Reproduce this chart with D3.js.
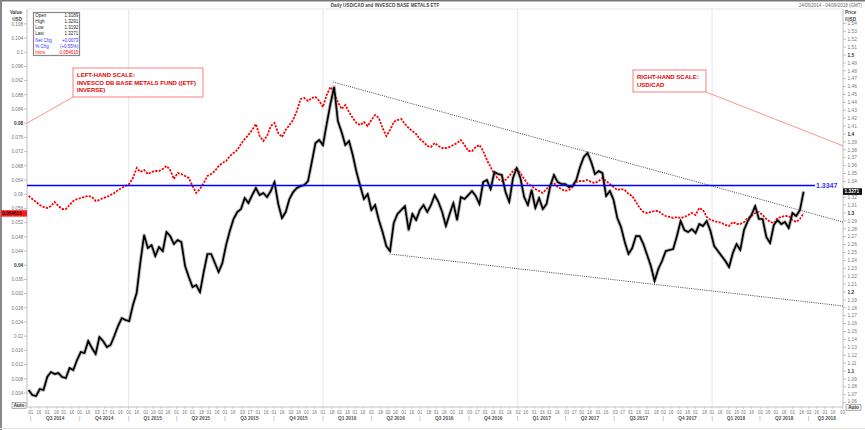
<!DOCTYPE html>
<html>
<head>
<meta charset="utf-8">
<script src="https://cdn.jsdelivr.net/npm/d3@7"></script>
<style>
  body { margin: 0; background: #fff; }
  svg { display: block; }
  text { font-family: "Liberation Sans", Arial, sans-serif; }
</style>
</head>
<body>
<svg id="chart" width="865" height="430"></svg>
<script>
// weekly closes, first week ending 2014-06-27
const weekStart = "2014-06-27";

// USD/CAD weekly close (right-hand scale)
const usdcad = [
  1.0759, 1.0696, 1.0683, 1.0772, 1.0759, 1.0924, 1.0987, 1.0962, 1.0974, 1.0924,
  1.0911, 1.1038, 1.1012, 1.1139, 1.1240, 1.1227, 1.1379, 1.1291, 1.1215, 1.1430,
  1.1379, 1.1303, 1.1329, 1.1443, 1.1569, 1.1670, 1.1645, 1.1632, 1.1835, 1.1987,
  1.2379, 1.2721, 1.2556, 1.2594, 1.2455, 1.2569, 1.2518, 1.2759, 1.2708, 1.2607,
  1.2658, 1.2632, 1.2329, 1.2189, 1.2063, 1.2088, 1.1999, 1.2253, 1.2481, 1.2481,
  1.2367, 1.2253, 1.2367, 1.2594, 1.2772, 1.2924, 1.3012, 1.3050, 1.3189, 1.3126,
  1.3227, 1.3316, 1.3227, 1.3253, 1.3202, 1.3278, 1.3392, 1.3113, 1.2936, 1.3012,
  1.3177, 1.3265, 1.3316, 1.3341, 1.3354, 1.3405, 1.3645, 1.3886, 1.3924, 1.3860,
  1.4126, 1.4379, 1.4595, 1.4164, 1.4025, 1.3860, 1.3911, 1.3734, 1.3518, 1.3341,
  1.3177, 1.3240, 1.3037, 1.3101, 1.2911, 1.2759, 1.2582, 1.2518, 1.2873, 1.2987,
  1.3037, 1.3088, 1.2784, 1.2987, 1.2911, 1.3037, 1.3101, 1.3012, 1.3101, 1.3227,
  1.3139, 1.3012, 1.2835, 1.2987, 1.3126, 1.2911, 1.3202, 1.3177, 1.3227, 1.3278,
  1.3215, 1.3113, 1.3392, 1.3418, 1.3303, 1.3518, 1.3493, 1.3481, 1.3265, 1.3139,
  1.3443, 1.3569, 1.3443, 1.3202, 1.3101, 1.3291, 1.3063, 1.3189, 1.3050, 1.3113,
  1.3341, 1.3481, 1.3392, 1.3367, 1.3367, 1.3329, 1.3341, 1.3418, 1.3582, 1.3708,
  1.3759, 1.3645, 1.3493, 1.3531, 1.3506, 1.3215, 1.3278, 1.3164, 1.2936, 1.2822,
  1.2632, 1.2481, 1.2556, 1.2708, 1.2708, 1.2607, 1.2468, 1.2329, 1.2139, 1.2291,
  1.2392, 1.2518, 1.2531, 1.2544, 1.2708, 1.2898, 1.2784, 1.2759, 1.2797, 1.2746,
  1.2860, 1.2835, 1.2898, 1.2772, 1.2582, 1.2518, 1.2455, 1.2392, 1.2316, 1.2493,
  1.2607, 1.2531, 1.2784, 1.2898, 1.2974, 1.3088, 1.2924, 1.2924, 1.2696, 1.2620,
  1.2848, 1.2911, 1.2860, 1.2886, 1.2810, 1.2999, 1.2962, 1.3037, 1.3271
];

// Invesco DB Base Metals fund, inverse (left-hand scale)
const inverse = [
  0.05950, 0.05865, 0.05781, 0.05696, 0.05640, 0.05612, 0.05668, 0.05781, 0.05668, 0.05583,
  0.05583, 0.05696, 0.05809, 0.05865, 0.05893, 0.05922, 0.05950, 0.05922, 0.05809, 0.05837,
  0.05893, 0.05922, 0.05978, 0.06034, 0.06119, 0.06175, 0.06231, 0.06288, 0.06457, 0.06738,
  0.06626, 0.06682, 0.06569, 0.06626, 0.06654, 0.06654, 0.06710, 0.06795, 0.06682, 0.06429,
  0.06598, 0.06569, 0.06513, 0.06457, 0.06231, 0.06034, 0.06147, 0.06316, 0.06513, 0.06569,
  0.06654, 0.06795, 0.06879, 0.06936, 0.07076, 0.07161, 0.07245, 0.07414, 0.07555, 0.07668,
  0.07808, 0.07977, 0.07639, 0.07499, 0.07639, 0.07921, 0.08005, 0.07724, 0.07611, 0.07808,
  0.07949, 0.08090, 0.08344, 0.08682, 0.08710, 0.08626, 0.08710, 0.08738, 0.08626, 0.08457,
  0.08795, 0.09020, 0.08879, 0.08597, 0.08400, 0.08513, 0.08316, 0.08147, 0.08005, 0.07949,
  0.08034, 0.07921, 0.08090, 0.08231, 0.08147, 0.07864, 0.07639, 0.07808, 0.08034, 0.08090,
  0.08118, 0.07977, 0.07864, 0.07780, 0.07696, 0.07555, 0.07470, 0.07358, 0.07330, 0.07442,
  0.07358, 0.07301, 0.07301, 0.07330, 0.07386, 0.07442, 0.07527, 0.07386, 0.07217, 0.07217,
  0.07330, 0.07386, 0.07217, 0.06964, 0.06766, 0.06569, 0.06429, 0.06372, 0.06400, 0.06513,
  0.06654, 0.06738, 0.06598, 0.06429, 0.06288, 0.06231, 0.06147, 0.06091, 0.06034, 0.06147,
  0.06288, 0.06316, 0.06203, 0.06147, 0.06091, 0.06119, 0.06203, 0.06344, 0.06372, 0.06372,
  0.06400, 0.06344, 0.06316, 0.06372, 0.06457, 0.06372, 0.06288, 0.06203, 0.06119, 0.06147,
  0.06119, 0.06006, 0.05950, 0.05781, 0.05612, 0.05499, 0.05471, 0.05499, 0.05527, 0.05527,
  0.05443, 0.05386, 0.05358, 0.05330, 0.05358, 0.05330, 0.05358, 0.05414, 0.05471, 0.05414,
  0.05612, 0.05555, 0.05358, 0.05274, 0.05245, 0.05217, 0.05189, 0.05133, 0.05104, 0.05217,
  0.05161, 0.05161, 0.05217, 0.05330, 0.05386, 0.05471, 0.05499, 0.05414, 0.05302, 0.05217,
  0.05189, 0.05330, 0.05358, 0.05386, 0.05386, 0.05274, 0.05217, 0.05302, 0.054615
];

const leftTicks = [0.004, 0.008, 0.012, 0.016, 0.02, 0.024, 0.028, 0.032, 0.036, 0.04,
  0.044, 0.048, 0.052, 0.056, 0.06, 0.064, 0.068, 0.072, 0.076, 0.08, 0.084, 0.088,
  0.092, 0.096, 0.1, 0.104, 0.108];
const rightTicks = [1.06, 1.07, 1.08, 1.09, 1.1, 1.11, 1.12, 1.13, 1.14, 1.15, 1.16, 1.17,
  1.18, 1.19, 1.2, 1.21, 1.22, 1.23, 1.24, 1.25, 1.26, 1.27, 1.28, 1.29, 1.3, 1.31, 1.32,
  1.33, 1.34, 1.35, 1.36, 1.37, 1.38, 1.39, 1.4, 1.41, 1.42, 1.43, 1.44, 1.45, 1.46, 1.47,
  1.48, 1.49, 1.5, 1.51, 1.52, 1.53, 1.54];
const boldLeft = [0.04, 0.08];
const boldRight = [1.1, 1.2, 1.3, 1.4, 1.5];

const quarters = ["Q3 2014", "Q4 2014", "Q1 2015", "Q2 2015", "Q3 2015", "Q4 2015",
  "Q1 2016", "Q2 2016", "Q3 2016", "Q4 2016", "Q1 2017", "Q2 2017", "Q3 2017",
  "Q4 2017", "Q1 2018", "Q2 2018", "Q3 2018"];
const yearStarts = ["2015-01-01", "2016-01-01", "2017-01-01", "2018-01-01"];

const legendLabels = ["Open", "High", "Low", "Last", "Net Chg", "% Chg", "Invrs"];
const legendValues = ["1.3189", "1.3291", "1.3192", "1.3271", "+0.0073", "(+0.55%)", "0.054615"];
const legendColors = ["#222", "#222", "#222", "#222", "#3333ff", "#3333ff", "#ff0000"];

const resistance = 1.3347;
const lastPrice = 1.3271;
const lastInverse = 0.054615;
const upperTrend = [["2016-01-20", 1.4658], ["2018-09-04", 1.2886]];
const lowerTrend = [["2016-05-05", 1.2481], ["2018-09-04", 1.1823]];

const parse = d3.utcParse("%Y-%m-%d");
const L = 27, R = 843, T = 9, B = 407;

const svg = d3.select("#chart");

const x = d3.scaleUtc()
  .domain([parse("2014-06-24"), parse("2018-09-04")])
  .range([L, R]);
const yR = d3.scaleLinear().domain([1.05443, 1.55823]).range([B, T]);
const yL = d3.scaleLinear().domain([0, 0.11217]).range([407.2, T]);

const dates = usdcad.map((d, i) => d3.utcDay.offset(parse(weekStart), 7 * i));

// frame
svg.append("rect").attr("x", 0).attr("y", 0).attr("width", 865).attr("height", 430).attr("fill", "#fff");
svg.append("rect").attr("x", L).attr("y", T).attr("width", R - L).attr("height", B - T)
  .attr("fill", "#fff").attr("stroke", "#e2e2e2").attr("stroke-width", 0.8);
svg.append("rect").attr("x", 0).attr("y", 0).attr("width", 865).attr("height", 1.5).attr("fill", "#777");
svg.append("rect").attr("x", 0).attr("y", 0).attr("width", 2).attr("height", 430).attr("fill", "#888");
svg.append("line").attr("x1", 0).attr("x2", 865).attr("y1", 428.5).attr("y2", 428.5)
  .attr("stroke", "#e4e4e4");

svg.append("defs").append("clipPath").attr("id", "clip")
  .append("rect").attr("x", L).attr("y", T).attr("width", R - L).attr("height", B - T);

// year gridlines
svg.append("g").selectAll("line").data(yearStarts).join("line")
  .attr("x1", d => x(parse(d))).attr("x2", d => x(parse(d)))
  .attr("y1", T).attr("y2", B)
  .attr("stroke", "#e6e6e6").attr("stroke-width", 1);

// title
svg.append("text").attr("x", 385).attr("y", 6.6).attr("text-anchor", "middle")
  .attr("font-size", 4.6).attr("font-weight", "bold").attr("fill", "#444")
  .text("Daily USD/CAD and INVESCO BASE METALS ETF");
svg.append("text").attr("x", 862).attr("y", 6.6).attr("text-anchor", "end")
  .attr("font-size", 4.5).attr("fill", "#666")
  .text("24/06/2014 - 04/09/2018 (GMT)");

// left axis
const gl = svg.append("g");
gl.append("line").attr("x1", L).attr("x2", L).attr("y1", T).attr("y2", B).attr("stroke", "#ccc");
gl.selectAll("line.t").data(leftTicks).join("line").attr("class", "t")
  .attr("x1", L - 3).attr("x2", L).attr("y1", d => yL(d)).attr("y2", d => yL(d))
  .attr("stroke", "#999").attr("stroke-width", 0.6);
gl.selectAll("text").data(leftTicks).join("text")
  .attr("x", L - 3.8).attr("y", d => yL(d) + 1.7).attr("text-anchor", "end")
  .attr("font-size", 4.7)
  .attr("font-weight", d => boldLeft.includes(d) ? "bold" : "normal")
  .attr("fill", d => boldLeft.includes(d) ? "#333" : "#777")
  .text(d => String(+d.toFixed(3)));
svg.append("text").attr("x", 22).attr("y", 14.4).attr("text-anchor", "end")
  .attr("font-size", 4.6).attr("font-weight", "bold").attr("fill", "#444").text("Value");
svg.append("text").attr("x", 22).attr("y", 21).attr("text-anchor", "end")
  .attr("font-size", 4.6).attr("font-weight", "bold").attr("fill", "#444").text("USD");

// right axis (labels hidden behind the last-price tag are skipped)
const gr = svg.append("g");
gr.append("line").attr("x1", R).attr("x2", R).attr("y1", T).attr("y2", B).attr("stroke", "#ccc");
gr.selectAll("line.t").data(rightTicks).join("line").attr("class", "t")
  .attr("x1", R).attr("x2", R + 3).attr("y1", d => yR(d)).attr("y2", d => yR(d))
  .attr("stroke", "#999").attr("stroke-width", 0.6);
gr.selectAll("text").data(rightTicks.filter(d => Math.abs(yR(d) - yR(lastPrice)) > 5.5)).join("text")
  .attr("x", R + 4.5).attr("y", d => yR(d) + (d < 1.065 ? 0.6 : 1.7))
  .attr("font-size", 4.8)
  .attr("font-weight", d => boldRight.includes(d) ? "bold" : "normal")
  .attr("fill", d => boldRight.includes(d) ? "#333" : "#777")
  .text(d => String(+d.toFixed(2)));
svg.append("text").attr("x", 845).attr("y", 14.4)
  .attr("font-size", 4.6).attr("font-weight", "bold").attr("fill", "#444").text("Price");
svg.append("text").attr("x", 845).attr("y", 21)
  .attr("font-size", 4.6).attr("font-weight", "bold").attr("fill", "#444").text("/USD");

// bottom axis: first trading day on/after the 1st and the 16th of every month
const dayTicks = [];
d3.utcMonths(parse("2014-07-01"), x.domain()[1]).forEach(m => {
  [1, 16].forEach(day => {
    let d = new Date(Date.UTC(m.getUTCFullYear(), m.getUTCMonth(), day));
    while (d.getUTCDay() === 0 || d.getUTCDay() === 6) d = d3.utcDay.offset(d, 1);
    if (d <= x.domain()[1]) dayTicks.push(d);
  });
});
const gb = svg.append("g");
gb.append("line").attr("x1", L).attr("x2", R).attr("y1", B).attr("y2", B).attr("stroke", "#ccc");
gb.selectAll("line.t").data(dayTicks).join("line").attr("class", "t")
  .attr("x1", d => x(d)).attr("x2", d => x(d)).attr("y1", B).attr("y2", B + 2)
  .attr("stroke", "#aaa").attr("stroke-width", 0.5);
gb.selectAll("text.d").data(dayTicks).join("text").attr("class", "d")
  .attr("x", d => x(d)).attr("y", 413.6).attr("text-anchor", "middle")
  .attr("font-size", 4.5).attr("fill", "#777")
  .text(d3.utcFormat("%d"));

const qStarts = d3.utcMonth.every(3).range(parse("2014-07-01"), parse("2018-10-02"));
gb.selectAll("text.sep").data(qStarts.slice(0, quarters.length)).join("text").attr("class", "sep")
  .attr("x", d => x(d)).attr("y", 420).attr("text-anchor", "middle")
  .attr("font-size", 5).attr("fill", "#777").text("|");
gb.selectAll("text.q").data(quarters).join("text").attr("class", "q")
  .attr("x", (d, i) => (x(qStarts[i]) + Math.min(x(qStarts[i + 1]), R + 2)) / 2)
  .attr("y", 419.8).attr("text-anchor", "middle")
  .attr("font-size", 4.8).attr("font-weight", "bold").attr("fill", "#555")
  .text(d => d);

// series
const plot = svg.append("g").attr("clip-path", "url(#clip)");

const lineR = d3.line().x((d, i) => x(dates[i])).y(d => yR(d));
const lineL = d3.line().x((d, i) => x(dates[i])).y(d => yL(d));

plot.append("path").datum(inverse).attr("d", lineL)
  .attr("fill", "none").attr("stroke", "#ff0000").attr("stroke-width", 1.8)
  .attr("stroke-dasharray", "2.2,1.3");

plot.append("path").datum(usdcad).attr("d", lineR)
  .attr("fill", "none").attr("stroke", "#777").attr("stroke-width", 3.6)
  .attr("stroke-opacity", 0.5).attr("stroke-linejoin", "round");
plot.append("path").datum(usdcad).attr("d", lineR)
  .attr("fill", "none").attr("stroke", "#000").attr("stroke-width", 1.7)
  .attr("stroke-linejoin", "miter");

// trend lines
[upperTrend, lowerTrend].forEach(t => {
  plot.append("line")
    .attr("x1", x(parse(t[0][0]))).attr("y1", yR(t[0][1]))
    .attr("x2", x(parse(t[1][0]))).attr("y2", yR(t[1][1]))
    .attr("stroke", "#333").attr("stroke-width", 0.9).attr("stroke-dasharray", "1,1.2");
});

// resistance
svg.append("line").attr("x1", L).attr("x2", 815).attr("y1", yR(resistance)).attr("y2", yR(resistance))
  .attr("stroke", "#0000ff").attr("stroke-width", 1.5);
svg.append("text").attr("x", 816).attr("y", yR(resistance) + 2.5)
  .attr("font-size", 7).attr("font-weight", "bold").attr("fill", "#3333ff")
  .text(String(resistance));

// last-value tags
svg.append("rect").attr("x", R).attr("y", yR(lastPrice) - 3.3).attr("width", 19).attr("height", 6.6)
  .attr("fill", "#111");
svg.append("text").attr("x", R + 1.5).attr("y", yR(lastPrice) + 1.8)
  .attr("font-size", 4.8).attr("font-weight", "bold").attr("fill", "#fff").text(String(lastPrice));
svg.append("rect").attr("x", 1).attr("y", yL(lastInverse) - 3.1).attr("width", 26).attr("height", 6.4)
  .attr("fill", "#ff1a1a");
svg.append("text").attr("x", 2).attr("y", yL(lastInverse) + 1.8)
  .attr("font-size", 4.7).attr("font-weight", "bold").attr("fill", "#111").text(String(lastInverse));

// legend box
const lg = svg.append("g");
lg.append("rect").attr("x", 33.5).attr("y", 12.5).attr("width", 46).attr("height", 43)
  .attr("fill", "#fff").attr("stroke", "#888").attr("stroke-width", 1.2);
legendLabels.forEach((lab, i) => {
  const yy = 17.3 + i * 6.05;
  lg.append("text").attr("x", 35.3).attr("y", yy).attr("font-size", 4.5)
    .attr("fill", legendColors[i]).text(lab);
  lg.append("text").attr("x", 78.3).attr("y", yy).attr("font-size", 4.5)
    .attr("text-anchor", "end").attr("fill", legendColors[i]).text(legendValues[i]);
});

// annotations
function note(bx, by, bw, bh, lines) {
  svg.append("rect").attr("x", bx).attr("y", by).attr("width", bw).attr("height", bh)
    .attr("fill", "#fff").attr("stroke", "#ff6f6f").attr("stroke-width", 0.9);
  lines.forEach((t, i) => {
    svg.append("text").attr("x", bx + 4).attr("y", by + 9.2 + i * 7.3)
      .attr("font-size", 6).attr("font-weight", "bold").attr("fill", "#e60000").text(t);
  });
}
svg.append("line").attr("x1", 73).attr("y1", 97).attr("x2", L).attr("y2", yL(0.08))
  .attr("stroke", "#ff7777").attr("stroke-width", 0.8);
svg.append("line").attr("x1", 706).attr("y1", 92).attr("x2", R).attr("y2", yR(1.385))
  .attr("stroke", "#ff7777").attr("stroke-width", 0.8);
note(73, 68, 130, 29, ["LEFT-HAND SCALE:", "INVESCO DB BASE METALS FUND ((ETF)", "INVERSE)"]);
note(633, 70, 73, 22, ["RIGHT-HAND SCALE:", "USD/CAD"]);

// auto buttons
[[12, 402.5, 14], [846, 404.6, 15]].forEach(b => {
  svg.append("rect").attr("x", b[0]).attr("y", b[1]).attr("width", b[2]).attr("height", 6)
    .attr("fill", "#f2f2f2").attr("stroke", "#888").attr("stroke-width", 0.6);
  svg.append("text").attr("x", b[0] + b[2] / 2).attr("y", b[1] + 4.7).attr("text-anchor", "middle")
    .attr("font-size", 4.6).attr("font-weight", "bold").attr("fill", "#333").text("Auto");
});
</script>
</body>
</html>
